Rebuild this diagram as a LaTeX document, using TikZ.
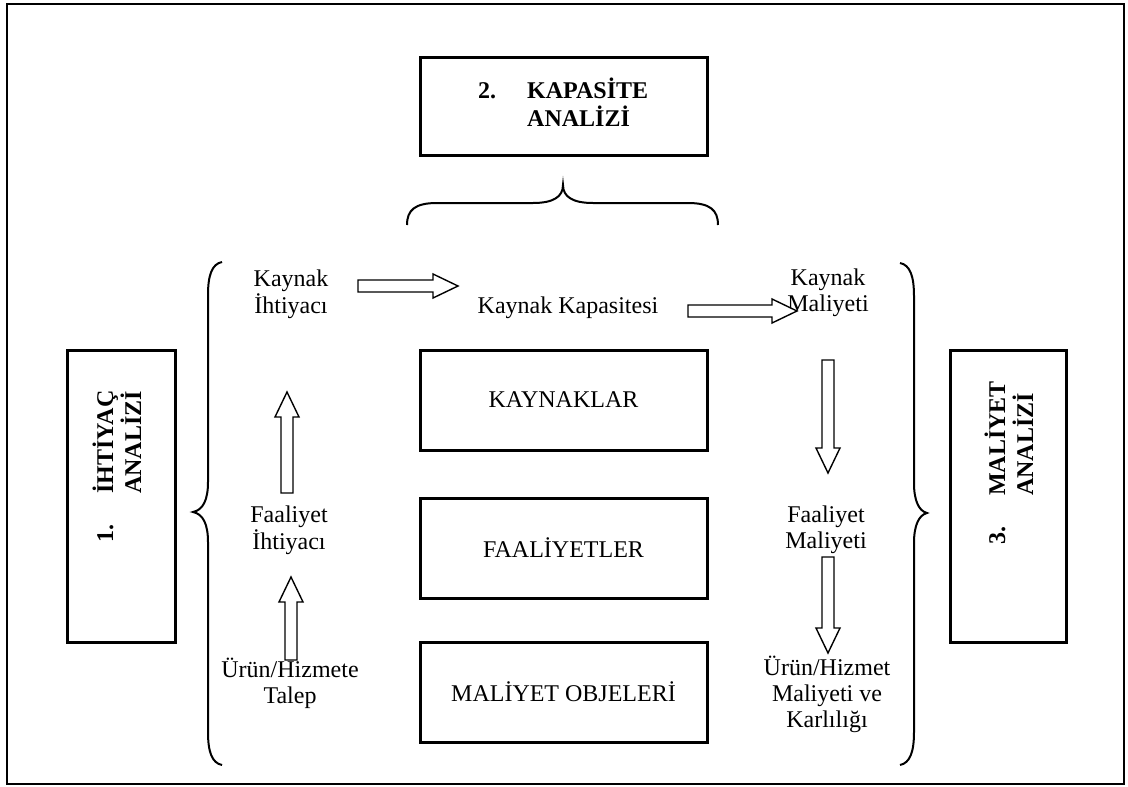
\documentclass[tikz,border=0pt]{standalone}
\usepackage{fontspec}
\setmainfont{Liberation Serif}
\usetikzlibrary{calc}
\newcommand\mlines[1]{\begin{tabular}[t]{@{}c@{}}#1\end{tabular}}
\newcommand\numlines[3]{\begin{tabular}[t]{@{}l@{}}\makebox[49pt][l]{#1}#2\\\hspace*{49pt}#3\end{tabular}}
\newcommand\harrowR[2]{\draw[blockarrow] ($(#1)+(0,-6)$) -- ($(#2)+(-25,-6)$) -- ($(#2)+(-25,-12)$) -- (#2) -- ($(#2)+(-25,12)$) -- ($(#2)+(-25,6)$) -- ($(#1)+(0,6)$) -- cycle;}
\newcommand\varrowD[2]{\draw[blockarrow] ($(#1)+(-6,0)$) -- ($(#2)+(-6,-25)$) -- ($(#2)+(-12,-25)$) -- (#2) -- ($(#2)+(12,-25)$) -- ($(#2)+(6,-25)$) -- ($(#1)+(6,0)$) -- cycle;}
\newcommand\varrowU[2]{\draw[blockarrow] ($(#1)+(-6,0)$) -- ($(#2)+(-6,25)$) -- ($(#2)+(-12,25)$) -- (#2) -- ($(#2)+(12,25)$) -- ($(#2)+(6,25)$) -- ($(#1)+(6,0)$) -- cycle;}
\tikzset{
  box/.style={draw, line width=3pt, inner sep=0pt},
  blockarrow/.style={draw, line width=1.4pt, fill=white, line join=miter},
  brace/.style={draw, line width=2pt},
  txt/.style={inner sep=0pt, anchor=base},
  lbl/.style={inner sep=0pt, anchor=base west, font=\fontsize{24}{25}\selectfont\bfseries},
}
\begin{document}
\begin{tikzpicture}[x=1pt, y=-1pt, font=\fontsize{24}{26}\selectfont]
\useasboundingbox (0,0) rectangle (1128,787);
\draw[line width=2.5pt] (7,4) rectangle (1124,784);

% top box
\node[box, minimum width=287pt, minimum height=98pt] (kapbox) at (563.5,106) {};
\node[lbl] (kaplbl) at (478,98) {\numlines{2.}{KAPASİTE}{ANALİZİ}};

% side boxes
\node[box, minimum width=108pt, minimum height=292pt] (ihtbox) at (121,496) {};
\node[lbl, rotate=90] (ihtlbl) at (113,543) {\numlines{1.}{İHTİYAÇ}{ANALİZİ}};
\node[box, minimum width=116pt, minimum height=292pt] (malbox) at (1008,496) {};
\node[lbl, rotate=90] (mallbl) at (1005,545) {\numlines{3.}{MALİYET}{ANALİZİ}};

% center boxes
\node[box, minimum width=287pt, minimum height=100pt] (kaynaklar) at (563.5,400) {KAYNAKLAR};
\node[box, minimum width=287pt, minimum height=100pt] (faaliyetler) at (563.5,548) {FAALİYETLER};
\node[box, minimum width=287pt, minimum height=100pt] (objeler) at (563.5,692) {MALİYET OBJELERİ};

% braces
\draw[brace] (407,225) .. controls (407,210) and (415,203) .. (437,203) -- (533,203) .. controls (553,203) and (563,197) .. (563,185) .. controls (563,197) and (573,203) .. (593,203) -- (688,203) .. controls (710,203) and (718,210) .. (718,225);
\draw[brace] (222,262) .. controls (212,264) and (208,275) .. (208,295) -- (208,482) .. controls (208,500) and (203,510) .. (193,512) .. controls (203,514) and (208,524) .. (208,542) -- (208,732) .. controls (208,752) and (212,763) .. (222,765);
\draw[brace] (900,263) .. controls (910,265) and (914,276) .. (914,296) -- (914,483) .. controls (914,501) and (919,511) .. (927,513) .. controls (919,515) and (914,525) .. (914,543) -- (914,732) .. controls (914,752) and (910,763) .. (900,765);

% texts
\node[txt] (kih) at (291,286) {\mlines{Kaynak\\İhtiyacı}};
\node[txt] (kkap) at (568,313) {Kaynak Kapasitesi};
\node[txt] (kmal) at (828,285) {\mlines{Kaynak\\Maliyeti}};
\node[txt] (fih) at (289,522) {\mlines{Faaliyet\\İhtiyacı}};
\node[txt] (fmal) at (826,522) {\mlines{Faaliyet\\Maliyeti}};
\node[txt] (urt) at (290,677) {\mlines{Ürün/Hizmete\\Talep}};
\node[txt] (urm) at (827,675) {\mlines{Ürün/Hizmet\\Maliyeti ve\\Karlılığı}};

% block arrows
\coordinate (a1s) at (358,286); \coordinate (a1e) at (458,286);
\coordinate (a2s) at (688,311); \coordinate (a2e) at (797,311);
\coordinate (d1s) at (828,360); \coordinate (d1e) at (828,473);
\coordinate (d2s) at (828,557); \coordinate (d2e) at (828,653);
\coordinate (u1s) at (287,493); \coordinate (u1e) at (287,392);
\coordinate (u2s) at (291,660); \coordinate (u2e) at (291,577);
\harrowR{a1s}{a1e}
\harrowR{a2s}{a2e}
\varrowD{d1s}{d1e}
\varrowD{d2s}{d2e}
\varrowU{u1s}{u1e}
\varrowU{u2s}{u2e}
\end{tikzpicture}
\end{document}
